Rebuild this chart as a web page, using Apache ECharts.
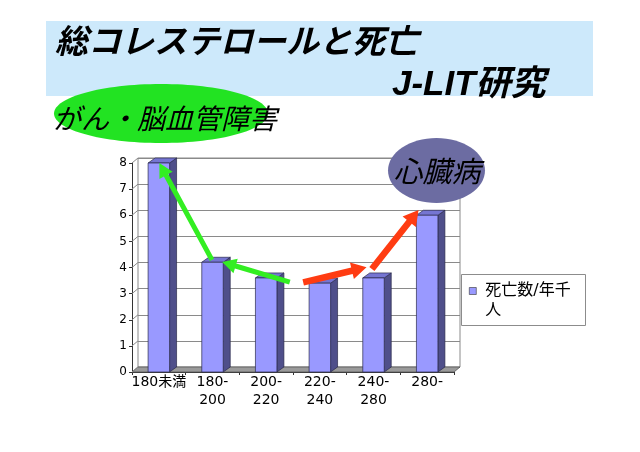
<!DOCTYPE html>
<html><head><meta charset="utf-8">
<script src="https://cdn.jsdelivr.net/npm/echarts@6/dist/echarts.min.js"></script>
<style>html,body{margin:0;padding:0;background:#fff}#c{width:640px;height:452px}</style>
</head><body><div id="c"></div>
<script>
// ---- data ----
const categories = ['180未満', '180-\n200', '200-\n220', '220-\n240', '240-\n280', '280-'];
const deathRates = [8.0, 4.2, 3.6, 3.4, 3.6, 6.0];
const yTicks = [0, 1, 2, 3, 4, 5, 6, 7, 8];
const seriesName = '死亡数/年千人';
// annotation arrows in data units: [xFrom, yFrom, xTo, yTo] (x in category units from left edge)
const greenArrows = [[2.94, 3.44, 1.68, 4.21], [1.49, 4.29, 0.51, 8.0]];
const redArrows = [[3.19, 3.43, 4.37, 4.01], [4.47, 3.94, 5.34, 6.2]];
const titleLine1 = '総コレステロールと死亡';
const titleLine2 = 'J-LIT研究';
const noteLeft = 'がん・脳血管障害';
const noteRight = '心臓病';

const DX = 6, DY = -5;   // depth of walls/floor
const BDX = 7, BDY = -5; // depth of bars
const CJK = '"Noto Sans CJK JP"';
const LAB = '"DejaVu Sans", "Noto Sans CJK JP"';

const chart = echarts.init(document.getElementById('c'), null, {renderer: 'canvas'});

function bandWidth(api) { return api.size([1, 0])[0]; }

const option = {
  animation: false,
  backgroundColor: '#fff',
  grid: [
    {left: 132, top: 163, width: 322, height: 209, containLabel: false},
    {left: 138, top: 158, width: 322, height: 209, show: true, borderColor: '#8a8a8a', borderWidth: 1, backgroundColor: '#fff'}
  ],
  xAxis: [
    {type: 'category', gridIndex: 0, data: categories,
     axisLine: {lineStyle: {color: '#333', width: 1}},
     axisTick: {show: true, length: 3, lineStyle: {color: '#333'}},
     axisLabel: {interval: 0, color: '#000', fontSize: 14, lineHeight: 18, margin: 1, fontFamily: LAB},
     splitLine: {show: false}},
    {type: 'value', gridIndex: 0, min: 0, max: 6, show: false},
    {type: 'category', gridIndex: 1, data: categories, show: false}
  ],
  yAxis: [
    {type: 'value', gridIndex: 0, min: 0, max: 8, interval: 1,
     axisLine: {show: true, lineStyle: {color: '#333'}},
     axisTick: {show: true, length: 3, lineStyle: {color: '#333'}},
     axisLabel: {color: '#000', fontSize: 12, margin: 5, fontFamily: LAB},
     splitLine: {show: false}},
    {type: 'value', gridIndex: 1, min: 0, max: 8, interval: 1,
     axisLine: {show: false}, axisTick: {show: false}, axisLabel: {show: false},
     splitLine: {show: true, lineStyle: {color: '#8a8a8a', width: 1}}}
  ],
  legend: {
    data: [{name: seriesName, icon: 'rect', itemStyle: {color: '#9999ff', borderColor: '#333', borderWidth: 0.6}}],
    left: 469, top: 261, padding: 0, orient: 'vertical',
    itemWidth: 7, itemHeight: 7, selectedMode: false,
    formatter: function (n) { return '\n' + n.slice(0, 6) + '\n' + n.slice(6); },
    textStyle: {color: '#000', fontSize: 16, lineHeight: 20, fontFamily: LAB, padding: [0, 0, 0, 4]}
  },
  series: [
    { // floor
      type: 'custom', xAxisIndex: 0, yAxisIndex: 0, silent: true, z: 1,
      data: [[0, 0]],
      renderItem: function (params, api) {
        const bw = bandWidth(api);
        const p0 = api.coord([0, 0]);
        const p1 = api.coord([categories.length - 1, 0]);
        const x0 = p0[0] - bw / 2, x1 = p1[0] + bw / 2, y0 = p0[1];
        return {type: 'polygon', shape: {points: [[x0, y0], [x0 + DX, y0 + DY], [x1 + DX, y0 + DY], [x1, y0]]},
                style: {fill: '#9a9a9a', stroke: '#555', lineWidth: 0.8}};
      }
    },
    { // left side wall lines
      type: 'custom', xAxisIndex: 0, yAxisIndex: 0, silent: true, z: 1,
      data: yTicks.map(function (v) { return [0, v]; }),
      renderItem: function (params, api) {
        const bw = bandWidth(api);
        const p = api.coord([0, api.value(1)]);
        const x0 = p[0] - bw / 2;
        return {type: 'line', shape: {x1: x0, y1: p[1], x2: x0 + DX, y2: p[1] + DY},
                style: {stroke: '#8a8a8a', lineWidth: 1}};
      }
    },
    { // bars
      type: 'custom', name: seriesName, xAxisIndex: 0, yAxisIndex: 0, z: 2,
      itemStyle: {color: '#9999ff'},
      encode: {x: 0, y: 1},
      data: deathRates.map(function (v, i) { return [i, v]; }),
      renderItem: function (params, api) {
        const bw = bandWidth(api) * 0.4;
        const top = api.coord([api.value(0), api.value(1)]);
        const base = api.coord([api.value(0), 0]);
        const l = top[0] - bw / 2, r = top[0] + bw / 2, t = top[1], b = base[1];
        const st = {stroke: '#2a2a4a', lineWidth: 0.7};
        return {type: 'group', children: [
          {type: 'polygon', shape: {points: [[r, t], [r + BDX, t + BDY], [r + BDX, b + BDY], [r, b]]},
           style: Object.assign({fill: '#4f4f8a'}, st)},
          {type: 'polygon', shape: {points: [[l, t], [l + BDX, t + BDY], [r + BDX, t + BDY], [r, t]]},
           style: Object.assign({fill: '#7575d2'}, st)},
          {type: 'rect', shape: {x: l, y: t, width: r - l, height: b - t},
           style: Object.assign({fill: '#9999ff'}, st)}
        ]};
      }
    },
    { // arrows
      type: 'custom', xAxisIndex: 1, yAxisIndex: 0, silent: true, z: 3,
      data: greenArrows.map(function (a) { return a.concat([0]); })
            .concat(redArrows.map(function (a) { return a.concat([1]); })),
      encode: {x: [0, 2], y: [1, 3]},
      renderItem: function (params, api) {
        const p1 = api.coord([api.value(0), api.value(1)]);
        const p2 = api.coord([api.value(2), api.value(3)]);
        const red = api.value(4) === 1;
        const w = red ? 6.5 : 5, hw = red ? 17 : 15, hl = red ? 15 : 14;
        const dx = p2[0] - p1[0], dy = p2[1] - p1[1];
        const len = Math.sqrt(dx * dx + dy * dy);
        const ux = dx / len, uy = dy / len, nx = -uy, ny = ux;
        const bx = p2[0] - ux * hl, by = p2[1] - uy * hl;
        const pts = [
          [p1[0] + nx * w / 2, p1[1] + ny * w / 2],
          [bx + nx * w / 2, by + ny * w / 2],
          [bx + nx * hw / 2, by + ny * hw / 2],
          [p2[0], p2[1]],
          [bx - nx * hw / 2, by - ny * hw / 2],
          [bx - nx * w / 2, by - ny * w / 2],
          [p1[0] - nx * w / 2, p1[1] - ny * w / 2]
        ];
        return {type: 'polygon', shape: {points: pts}, style: {fill: red ? '#ff3c12' : '#33ee22'}};
      }
    }
  ],
  graphic: [
    {type: 'rect', z: 100, shape: {x: 46, y: 21, width: 547, height: 75}, style: {fill: '#cde9fb'}},
    {type: 'ellipse', z: 100, shape: {cx: 161, cy: 113.5, rx: 107, ry: 29.5}, style: {fill: '#22e322'}},
    {type: 'text', z: 101, style: {text: titleLine1, x: 55, y: 40, fontSize: 33, fontWeight: 'bold', fontStyle: 'italic', fontFamily: CJK, fill: '#000', verticalAlign: 'middle'}},
    {type: 'text', z: 101, style: {text: titleLine2, x: 392, y: 85, fontSize: 35, fontWeight: 'bold', fontStyle: 'italic', fontFamily: '"Liberation Sans", "Noto Sans CJK JP"', fill: '#000', verticalAlign: 'middle'}},
    {type: 'text', z: 101, style: {text: noteLeft, x: 53, y: 118, fontSize: 28, fontStyle: 'italic', fontFamily: CJK, fill: '#000', verticalAlign: 'middle'}},
    {type: 'ellipse', z: 100, shape: {cx: 436.5, cy: 170.5, rx: 48.5, ry: 32.5}, style: {fill: '#6c6ca2'}},
    {type: 'text', z: 101, style: {text: noteRight, x: 437, y: 171, fontSize: 29, fontStyle: 'italic', fontFamily: CJK, fill: '#000', align: 'center', verticalAlign: 'middle'}},
    {type: 'rect', z: 3, shape: {x: 461.5, y: 274.5, width: 124, height: 51}, style: {fill: '#fff', stroke: '#8c8c8c', lineWidth: 1}}
  ]
};
chart.setOption(option);
</script>
</body></html>
